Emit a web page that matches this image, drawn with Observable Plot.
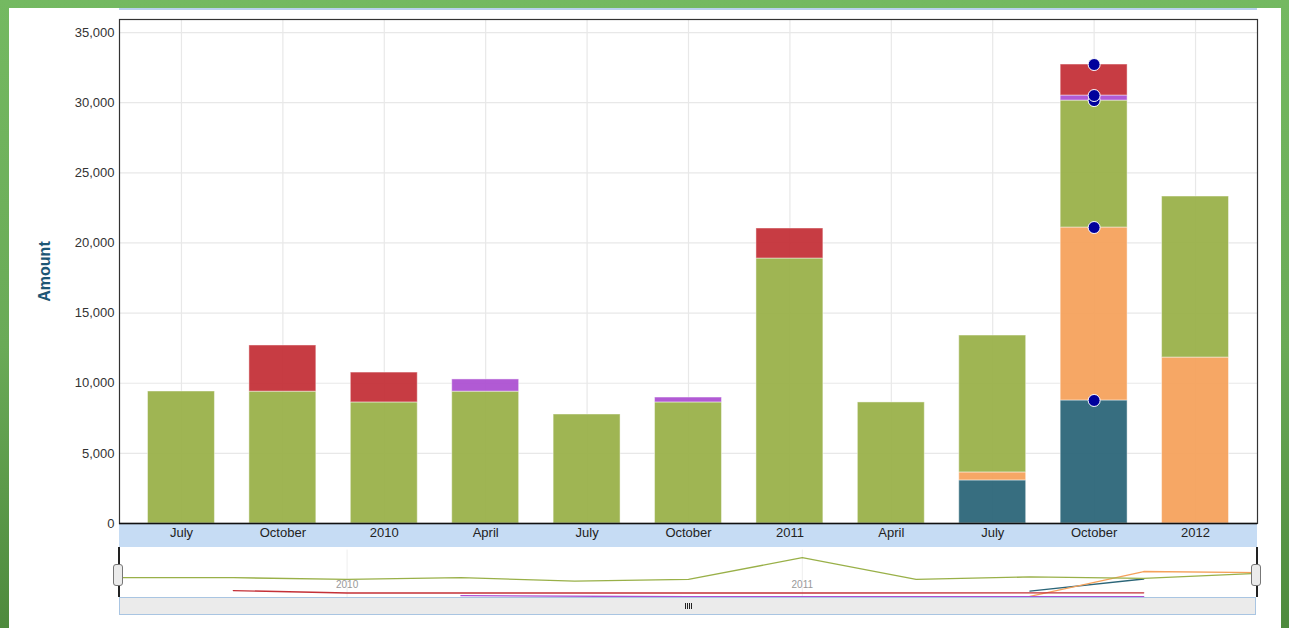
<!DOCTYPE html>
<html>
<head>
<meta charset="utf-8">
<script src="https://cdn.jsdelivr.net/npm/d3@7"></script>
<script src="https://cdn.jsdelivr.net/npm/@observablehq/plot@0.6"></script>
<style>
  html, body { margin: 0; padding: 0; }
  body { width: 1289px; height: 628px; overflow: hidden; font-family: "Liberation Sans", Arial, sans-serif; }
  #root { position: relative; width: 1289px; height: 628px; background: linear-gradient(to bottom, #74b961 0%, #6aaa57 55%, #4e8a3d 100%); }
  #panel { position: absolute; left: 9px; top: 8px; width: 1272px; height: 620px; background: #fff; }
  .abs { position: absolute; }
  #topline { left: 119px; top: 8px; width: 1138px; height: 2px; background: #b9d1ee; }
  #xband { left: 119px; top: 523px; width: 1138px; height: 24px; background: #c6dcf4; }
  #scroll { left: 119px; top: 597px; width: 1135px; height: 16px; background: #ebebeb; border: 1.5px solid #a9c5e2; }
  .grip { top: 603px; width: 1px; height: 6px; background: #222; }
  .vline { top: 547px; width: 1.5px; height: 50px; background: #222; }
  .handle { top: 564px; width: 8px; height: 20px; background: #ebebeb; border: 1.5px solid #777; border-radius: 3px; }
  #main, #nav { position: absolute; left: 0; }
  #main { top: 0; }
  #nav { top: 547px; }
</style>
</head>
<body>
<div id="root">
  <div id="panel"></div>
  <div id="topline" class="abs"></div>
  <div id="xband" class="abs"></div>
  <div id="main"></div>
  <div id="nav"></div>
  <div class="abs vline" style="left:118px"></div>
  <div class="abs vline" style="left:1256px"></div>
  <div id="scroll" class="abs"></div>
  <div class="abs grip" style="left:685px"></div>
  <div class="abs grip" style="left:687px"></div>
  <div class="abs grip" style="left:689px"></div>
  <div class="abs grip" style="left:691px"></div>
  <div class="abs handle" style="left:113px"></div>
  <div class="abs handle" style="left:1251px"></div>
</div>
<script>
// ---- data ----
const periods = ["2009-07", "2009-10", "2010-01", "2010-04", "2010-07", "2010-10", "2011-01", "2011-04", "2011-07", "2011-10", "2012-01"];
const tickLabels = ["July", "October", "2010", "April", "July", "October", "2011", "April", "July", "October", "2012"];
const navYearTicks = ["2010-01", "2011-01"];
const navYearLabels = ["2010", "2011"];
const seriesNames = ["Series 1", "Series 2", "Series 3", "Series 4", "Series 5"];
const seriesColors = ["#2b6578", "#f5a15b", "#99b048", "#ac50d1", "#c43037"];
const series1 = [null, null, null, null, null, null, null, null, 3070, 8770, null];
const series2 = [null, null, null, null, null, null, null, null, 570, 12330, 11830];
const series3 = [9410, 9400, 8630, 9400, 7770, 8630, 18890, 8630, 9760, 9050, 11480];
const series4 = [null, null, null, 870, null, 350, null, null, null, 360, null];
const series5 = [null, 3290, 2130, null, null, null, 2140, null, null, 2210, null];
const highlightPeriod = "2011-10";
const yTicks = [0, 5000, 10000, 15000, 20000, 25000, 30000, 35000];

const allSeries = [series1, series2, series3, series4, series5];
const rows = [];
seriesNames.forEach((s, si) => {
  allSeries[si].forEach((v, i) => {
    if (v != null) rows.push({period: periods[i], series: s, value: v});
  });
});

const font = "'Liberation Sans', Arial, sans-serif";

const main = Plot.plot({
  width: 1289, height: 628,
  marginLeft: 119, marginRight: 32, marginTop: 19, marginBottom: 105,
  style: {background: "transparent", fontFamily: font, overflow: "visible"},
  x: {domain: periods, paddingInner: 0.34, paddingOuter: 0.281, round: false, axis: null},
  y: {domain: [0, 35930], axis: null},
  color: {domain: seriesNames, range: seriesColors},
  marks: [
    Plot.gridY(yTicks, {stroke: "#e8e8e8", strokeOpacity: 1, strokeWidth: 1.2}),
    Plot.gridX(periods, {stroke: "#e8e8e8", strokeOpacity: 1, strokeWidth: 1.2}),
    Plot.barY(rows, {x: "period", y: "value", fill: "series", fillOpacity: 0.94, stroke: "#ffffff", strokeOpacity: 0.45, strokeWidth: 1}),
    Plot.dot(rows.filter(d => d.period === highlightPeriod), Plot.stackY2({x: "period", y: "value", z: "series", r: 6, fill: "#00009c", stroke: "#ffffff", strokeWidth: 1})),
    Plot.axisY(yTicks, {anchor: "left", tickSize: 0, tickPadding: 5, tickFormat: d3.format(","), fontSize: 13, fill: "#333", label: null}),
    Plot.axisX({tickSize: 0, tickPadding: 4, fontSize: 13, fill: "#222", tickFormat: d => tickLabels[periods.indexOf(d)], label: null}),
    Plot.frame({stroke: "#333", strokeWidth: 1.2}),
    Plot.ruleY([0], {stroke: "#111", strokeWidth: 1.6}),
    Plot.text(["Amount"], {frameAnchor: "left", textAnchor: "middle", rotate: -90, dx: -75, fontSize: 16, fontWeight: "bold", fill: "#1d5675"})
  ]
});
document.getElementById("main").appendChild(main);

const nav = Plot.plot({
  width: 1289, height: 50,
  marginLeft: 119, marginRight: 32, marginTop: 0, marginBottom: 0,
  style: {background: "transparent", fontFamily: font, overflow: "visible"},
  x: {type: "point", domain: periods, padding: 0, round: false, axis: null},
  y: {domain: [0, 23730], axis: null},
  color: {domain: seriesNames, range: seriesColors},
  marks: [
    Plot.ruleX(navYearTicks, {y1: 0, y2: 22500, stroke: "#eeeeee"}),
    Plot.text(navYearTicks, {x: d => d, text: (d, i) => navYearLabels[i], frameAnchor: "bottom", dy: -10, fill: "#999", fontSize: 10}),
    Plot.line(rows, {x: "period", y: "value", z: "series", stroke: "series", strokeWidth: 1.3})
  ]
});
document.getElementById("nav").appendChild(nav);
</script>
</body>
</html>
